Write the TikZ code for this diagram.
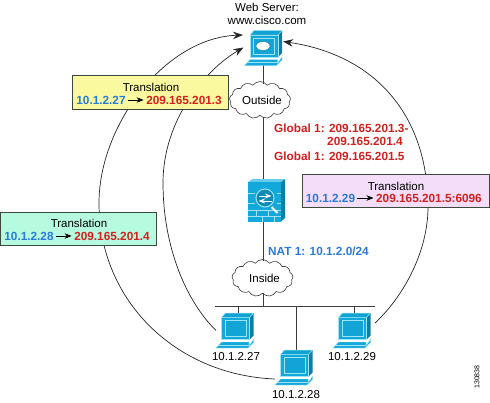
\documentclass[tikz,border=0pt]{standalone}
\usepackage{fontspec}
\usepackage{xcolor}
\setmainfont{Liberation Sans}
\usetikzlibrary{arrows.meta,shapes.symbols}
\definecolor{iconblue}{HTML}{12A9DA}
\definecolor{icondark}{HTML}{0B7FA6}
\definecolor{iconlight}{HTML}{9FE3F5}
\definecolor{ipblue}{HTML}{2B7AD8}
\definecolor{ipred}{HTML}{D2201E}
\definecolor{wire}{HTML}{3C3C3C}
\definecolor{boxedge}{HTML}{3C4A3C}
\definecolor{boxyellow}{HTML}{FBF9A0}
\definecolor{boxgreen}{HTML}{B6FBE0}
\definecolor{boxpink}{HTML}{F3DDF9}
\tikzset{
  plain/.style={font=\fontsize{11.5}{13}\selectfont,inner sep=0pt},
  ipsrc/.style={font=\fontsize{11.8}{13}\selectfont\bfseries,text=ipblue,inner sep=0pt},
  ipdst/.style={font=\fontsize{11.8}{13}\selectfont\bfseries,text=ipred,inner sep=0pt},
  hostbox/.style={minimum width=38pt,minimum height=35pt,inner sep=0pt,outer sep=0pt},
  fwbox/.style={minimum width=37pt,minimum height=42pt,inner sep=0pt,outer sep=0pt},
  netcloud/.style={cloud,draw=wire,fill=white,cloud puffs=13,cloud puff arc=110,aspect=1.7,minimum width=61pt,minimum height=37pt,inner sep=0pt,outer sep=0pt,line width=.6pt},
  xlatebox/.style={draw=boxedge,line width=.8pt,inner sep=0pt,outer sep=0pt},
  xlatearrow/.style={-{Stealth[length=7pt,width=5.5pt]},line width=.7pt,shorten <=2pt,shorten >=2.5pt},
  wireline/.style={wire,line width=.7pt},
  flow/.style={black!85,line width=.7pt,-{Stealth[length=10pt,width=7.5pt]}},
  hosticon/.pic={
    \fill[icondark](-13.5,-13)--(-9.5,-17.5)--(18.5,-17.5)--(18.5,5)--(14.5,9)--cycle;
    \fill[iconblue,draw=iconlight,line width=.5pt](-13.5,-13)rectangle(14.5,9);
    \fill[iconblue!85!icondark,draw=iconlight,line width=.5pt](-13.5,-13)--(-9.5,-17.5)--(18.5,-17.5)--(14.5,-13)--cycle;
    \fill[iconblue!88!icondark,draw=iconlight,line width=.5pt](-10,-10)rectangle(11,6);
    \fill[iconblue,draw=iconlight,line width=.4pt](-13.5,11.5)--(14,11.5)--(14,15)--(18.5,9)--(18.5,12)--(13,17.5)--(-19,17.5)--cycle;
    \draw[iconlight,line width=.4pt](-17,14.5)--(14,14.5);
  },
  fwicon/.pic={
    \fill[icondark](14,-19)--(18.5,-22)--(18.5,17)--(14,21)--cycle;
    \fill[iconlight!60!iconblue](-18.5,-19)--(-14,-22)--(18.5,-22)--(14,-19)--cycle;
    \fill[iconblue](-18.5,-19)rectangle(14,21);
    \draw[iconlight,line width=.5pt](-18.5,-8)--(-12,-8)(10,-8)--(14,-8)(-18.5,2)--(-12,2)(10,2)--(14,2);
    \draw[iconlight,line width=.5pt](-18.5,9)--(14,9)(-18.5,15)--(14,15)(-10,9)--(-10,15)(2,9)--(2,15)(-4,15)--(-4,21)(8,15)--(8,21);
    \draw[white,line width=1.8pt](5,6)--(11,12);
    \fill[icondark!70!iconblue,draw=iconlight,line width=1pt](-1.5,-3)circle[radius=9];
    \draw[-Stealth,white,line width=.8pt](-8,-5)--(5,-5);
    \draw[-Stealth,white,line width=.8pt](5,0)--(-8,0);
  },
}
\begin{document}
\begin{tikzpicture}[x=1pt,y=-1pt,>=Stealth]
\useasboundingbox(0,0)rectangle(490,402);
\node[hostbox](server)at(263.5,48){};
\node[netcloud](outside)at(260,100){};
\node[fwbox](firewall)at(266.5,201){};
\node[netcloud](inside)at(262.5,278){};
\node[hostbox](pca)at(235,330.5){};
\node[hostbox](pcb)at(294,367.5){};
\node[hostbox](pcc)at(352,330.5){};
\coordinate(busl)at(215,306);
\coordinate(busr)at(375,306);
\coordinate(busa)at(238,306);
\coordinate(busb)at(296,306);
\coordinate(busc)at(354,306);
\coordinate(busm)at(263,306);
\coordinate(tipa)at(243.5,47.5);
\coordinate(tipb)at(243,35);
\coordinate(tipc)at(283,41.5);
\coordinate(tailb)at(275,379);
\coordinate(tailc)at(375,323);
\draw[wireline](263,65)--(263,84);
\draw[wireline](263,117)--(263,181);
\draw[wireline](263,222)--(263,261);
\draw[wireline](busm|-inside.south)--(busm);
\draw[wireline](busl)--(busr);
\draw[wireline](busa)--(busa|-pca.north);
\draw[wireline](busb)--(busb|-pcb.north);
\draw[wireline](busc)--(busc|-pcc.north);
\draw[flow](pca.west)..controls(185,300)and(163,245)..(163,183)
  ..controls(163,120)and(205,70)..(tipa);
\draw[flow](tailb)..controls(175,375)and(99,300)..(99,203)
  ..controls(99,125)and(165,38)..(tipb);
\draw[flow](tailc)..controls(405,295)and(428,250)..(428,207)
  ..controls(428,115)and(375,55)..(tipc);
\pic at(server){hosticon};
\fill[white,draw=icondark,line width=.4pt](263,46)ellipse[x radius=7,y radius=4.5];
\pic at(firewall){fwicon};
\pic at(pca){hosticon};
\pic at(pcb){hosticon};
\pic at(pcc){hosticon};
\node[plain]at(262,100){Outside};
\node[plain]at(264.5,278){Inside};
\node[plain](webname)at(267,7){Web Server:};
\node[plain](webhost)at(267,20){www.cisco.com};
\node[plain](ipa)at(236,357){10.1.2.27};
\node[plain](ipb)at(296,395){10.1.2.28};
\node[plain](ipc)at(352,357){10.1.2.29};
\node[ipdst,anchor=west](globa)at(274,128){Global 1: 209.165.201.3-};
\node[ipdst,anchor=west](globb)at(327,141){209.165.201.4};
\node[ipdst,anchor=west](globc)at(274,156){Global 1: 209.165.201.5};
\node[ipsrc,anchor=west](natnet)at(268,251){NAT 1: 10.1.2.0/24};
\node[xlatebox,fill=boxyellow,minimum width=156pt,minimum height=34pt](boxa)at(150,92){};
\node[plain](xlatea)at(151,87){Translation};
\node[ipsrc](srca)at(101,100){10.1.2.27};
\node[ipdst](dsta)at(184,100){209.165.201.3};
\draw[xlatearrow](srca)--(dsta);
\node[xlatebox,fill=boxgreen,minimum width=155.5pt,minimum height=33pt](boxb)at(78.2,228.5){};
\node[plain](xlateb)at(79,223){Translation};
\node[ipsrc](srcb)at(29,236){10.1.2.28};
\node[ipdst](dstb)at(112,236){209.165.201.4};
\draw[xlatearrow](srcb)--(dstb);
\node[xlatebox,fill=boxpink,minimum width=187.5pt,minimum height=33pt](boxc)at(395.7,190.5){};
\node[plain](xlatec)at(396,186){Translation};
\node[ipsrc](srcc)at(330.5,198){10.1.2.29};
\node[ipdst](dstc)at(429,198){209.165.201.5:6096};
\draw[xlatearrow](srcc)--(dstc);
\node[font=\fontsize{7}{8}\selectfont,inner sep=0pt,rotate=90](figno)at(477,377){130838};
\end{tikzpicture}
\end{document}
